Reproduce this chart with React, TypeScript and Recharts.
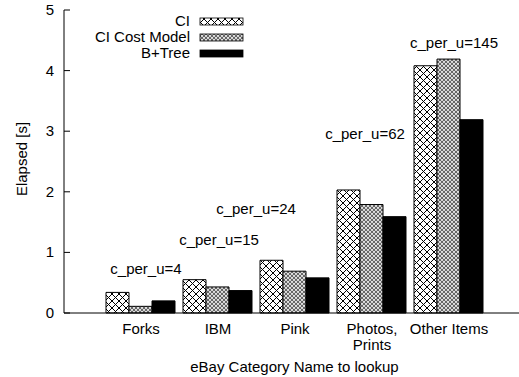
import React from 'react'
import { ComposedChart, Bar, XAxis, YAxis, Legend, ReferenceDot } from 'recharts'

const categories = ['Forks', 'IBM', 'Pink', 'Photos,\nPrints', 'Other Items']
const ciTimes = [0.34, 0.55, 0.87, 2.03, 4.08]
const ciCostModelTimes = [0.11, 0.43, 0.69, 1.79, 4.19]
const bTreeTimes = [0.2, 0.37, 0.58, 1.59, 3.19]
const cPerU = [4, 15, 24, 62, 145]
const annotationHeights = [0.73, 1.22, 1.73, 2.97, 4.47]
const yTicks = [0, 1, 2, 3, 4, 5]

// horizontal nudge of each c_per_u note from its group centre (px)
const annotationShift = [5, 1, -39, -7, 5]

const FONT = '"Liberation Sans", Arial, Helvetica, sans-serif'

const series = [
  { key: 'ci', name: 'CI', fill: 'url(#ciHatch)' },
  { key: 'ciCost', name: 'CI Cost Model', fill: 'url(#costHatch)' },
  { key: 'btree', name: 'B+Tree', fill: '#000' },
]

const data = categories.map((category, i) => ({
  category,
  ci: ciTimes[i],
  ciCost: ciCostModelTimes[i],
  btree: bTreeTimes[i],
}))

// the plot runs on past the right edge, so the right padding is shorter
const xPadding = { left: 38.5, right: 31.5 }

function BottomTick({ x, y, payload }: any) {
  const lines = String(payload.value).split('\n')
  return (
    <text x={x} y={y + 21} textAnchor="middle" fontSize={15} fill="#000" fontFamily={FONT}>
      {lines.map((line, i) => (
        <tspan key={i} x={x} dy={i === 0 ? 0 : 16}>{line}</tspan>
      ))}
    </text>
  )
}

function TopTick({ x, y }: any) {
  return <line x1={x} y1={y} x2={x} y2={y + 6} stroke="#000" strokeWidth={1} />
}

function LeftTick({ x, y, payload }: any) {
  return (
    <g>
      <line x1={x + 10} y1={y} x2={x + 16} y2={y} stroke="#000" strokeWidth={1} />
      <text x={x} y={y} dy={5} textAnchor="end" fontSize={15} fill="#000" fontFamily={FONT}>
        {payload.value}
      </text>
    </g>
  )
}

function KeyBox() {
  return (
    <svg width={250} height={56} style={{ display: 'block' }}>
      {series.map((s, i) => (
        <g key={s.key}>
          <text x={126} y={14 + i * 16} textAnchor="end" fontSize={15} fill="#000" fontFamily={FONT}>
            {s.name}
          </text>
          <rect x={136} y={6 + i * 16} width={43} height={7} fill={s.fill} stroke="#000" strokeWidth={0.8} />
        </g>
      ))}
    </svg>
  )
}

export default function App() {
  return (
    <div style={{ width: 519, height: 377, background: '#fff' }}>
      <style>{'body { margin: 0; }'}</style>
      <ComposedChart
        width={519}
        height={377}
        data={data}
        margin={{ top: 10, right: 0, left: 0, bottom: 0 }}
        barCategoryGap={3.5}
        barGap={0}
      >
        <defs>
          <pattern id="ciHatch" patternUnits="userSpaceOnUse" width={7} height={7}>
            <rect width={7} height={7} fill="#fff" />
            <path d="M-1,-1 L8,8 M8,-1 L-1,8" stroke="#000" strokeWidth={1} />
          </pattern>
          <pattern id="costHatch" patternUnits="userSpaceOnUse" width={4} height={4}>
            <rect width={4} height={4} fill="#fff" />
            <path d="M-1,-1 L5,5 M5,-1 L-1,5" stroke="#000" strokeWidth={0.6} />
            <circle cx={2} cy={0} r={0.6} fill="#555" />
            <circle cx={0} cy={2} r={0.6} fill="#555" />
            <circle cx={4} cy={2} r={0.6} fill="#555" />
            <circle cx={2} cy={4} r={0.6} fill="#555" />
          </pattern>
        </defs>
        <XAxis
          dataKey="category"
          height={64}
          padding={xPadding}
          tick={<BottomTick />}
          tickLine={false}
          tickSize={0}
          tickMargin={0}
          interval={0}
          axisLine={{ stroke: '#000', strokeWidth: 1 }}
          label={{ value: 'eBay Category Name to lookup', position: 'insideBottom', offset: 5, dx: 3, fontSize: 15, fill: '#000', fontFamily: FONT }}
        />
        <XAxis
          xAxisId="top"
          dataKey="category"
          orientation="top"
          height={0}
          padding={xPadding}
          tick={<TopTick />}
          tickLine={false}
          tickSize={0}
          tickMargin={0}
          interval={0}
          axisLine={{ stroke: '#000', strokeWidth: 1 }}
        />
        <YAxis
          domain={[0, 5]}
          ticks={yTicks}
          width={64}
          tick={<LeftTick />}
          tickLine={false}
          tickSize={0}
          tickMargin={10}
          axisLine={{ stroke: '#000', strokeWidth: 1 }}
          label={{
            content: () => (
              <text x={21} y={159} transform="rotate(-90, 21, 159)" textAnchor="middle" dominantBaseline="central" fontSize={15} fill="#000" fontFamily={FONT}>
                Elapsed [s]
              </text>
            ),
          }}
        />
        {series.map(s => (
          <Bar
            key={s.key}
            dataKey={s.key}
            name={s.name}
            fill={s.fill}
            stroke="#000"
            strokeWidth={1}
            isAnimationActive={false}
          />
        ))}
        {categories.map((c, i) => (
          <ReferenceDot
            key={c}
            x={c}
            y={annotationHeights[i]}
            r={0}
            fill="none"
            stroke="none"
            ifOverflow="visible"
            label={{
              content: ({ viewBox }: any) => (
                <text
                  x={viewBox.x + viewBox.width / 2 + annotationShift[i]}
                  y={viewBox.y + viewBox.height / 2}
                  textAnchor="middle"
                  dominantBaseline="central"
                  fontSize={15}
                  fill="#000"
                  fontFamily={FONT}
                >
                  {`c_per_u=${cPerU[i]}`}
                </text>
              ),
            }}
          />
        ))}
        <Legend
          layout="vertical"
          align="center"
          verticalAlign="middle"
          content={() => <KeyBox />}
          wrapperStyle={{ position: 'absolute', left: 64, top: 12, right: 'auto', bottom: 'auto', width: 250, height: 56 }}
        />
      </ComposedChart>
    </div>
  )
}
